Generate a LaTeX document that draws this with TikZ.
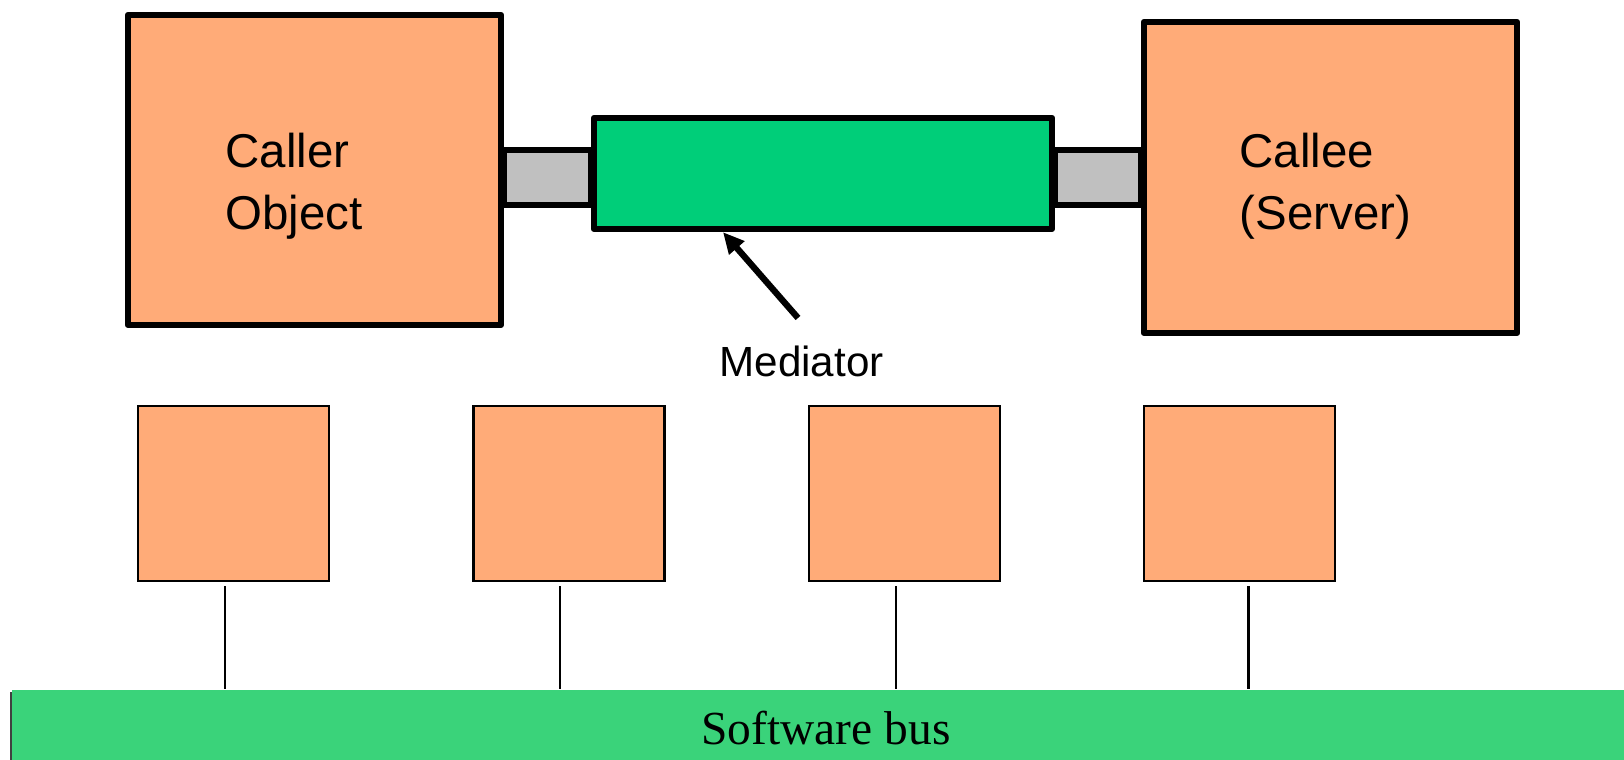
\documentclass[tikz,border=0pt]{standalone}
\usepackage{fontspec}
\setmainfont{Liberation Serif}
\setsansfont{Liberation Sans}
\usepackage{xcolor}
\usetikzlibrary{arrows.meta, positioning, backgrounds}
\definecolor{Peach}    {HTML}{FFAB78}
\definecolor{MedGreen} {HTML}{00CE79}
\definecolor{BusGreen} {HTML}{3AD37A}
\definecolor{PlugGrey} {HTML}{C0C0C0}
\tikzset{
  point arrow/.style={-{Triangle[length=6pt,width=5.5pt]}, line width=1.8pt},
  stub/.style={line width=0.6pt},
}

\begin{document}
\begin{tikzpicture}[
    big box/.style={draw, line width=1.8pt, line join=round, fill=Peach,
                    inner sep=0pt, minimum width=3.73cm, minimum height=3.10cm},
    small box/.style={draw, line width=0.6pt, fill=Peach,
                      inner sep=0pt, minimum width=1.91cm, minimum height=1.75cm},
    mediator/.style={draw, line width=1.8pt, line join=round, fill=MedGreen,
                     inner sep=0pt, minimum width=4.58cm, minimum height=1.11cm},
    plug/.style={draw, line width=1.8pt, fill=PlugGrey},
    box text/.style={font=\sffamily\fontsize{13.5}{17.9}\selectfont,
                     align=left, inner sep=0pt}]
  \useasboundingbox (0,0) rectangle (16.24,7.6);
  % Nodes
  \node[big box]  (caller) at (3.145, 5.90)  {};
  \node[big box, minimum height=3.11cm] (callee) at (13.305, 5.825) {};
  \node[mediator] (med)    at (8.23, 5.865)  {};
  \node[box text, anchor=base west] (callertxt) at (2.25, 5.30) {Caller\\Object};
  \node[box text, anchor=base west] (calleetxt) at (12.39, 5.30) {Callee\\(Server)};
  \node[font=\sffamily\fontsize{12}{14}\selectfont, inner sep=0pt, anchor=base]
       (medtxt) at (8.015, 3.83) {Mediator};
  \coordinate (medtail) at (7.98, 4.42);
  % Plugs between the objects and the mediator
  \begin{scope}[on background layer]
    \draw[plug] (caller.east |- 0,6.10) rectangle (med.west |- 0,5.55);
    \draw[plug] (med.east |- 0,6.10) rectangle (callee.west |- 0,5.55);
  \end{scope}
  \draw[point arrow] (medtail) -- ([xshift=-1.0cm]med.south);
  % Software bus
  \node[fill=BusGreen, inner sep=0pt, minimum width=16.12cm, minimum height=0.70cm]
       (bus) at (8.18, 0.35) {};
  \draw[line width=0.5pt, black!75] (bus.south west) -- ([yshift=-0.03cm]bus.north west);
  \node[font=\fontsize{13.5}{16}\selectfont, inner sep=0pt, anchor=base]
       (bustxt) at (8.26, 0.15) {Software bus};
  \foreach \i/\x/\dx in {1/2.335/-0.085, 2/5.69/-0.09, 3/9.045/-0.085, 4/12.395/0.09} {
    \node[small box] (obj\i) at (\x, 2.665) {};
    \draw[stub, shorten <=1.2pt] ([xshift=\dx cm]obj\i.south)
         -- ([xshift=\dx cm]obj\i.south |- bus.north);
  }
\end{tikzpicture}
\end{document}
